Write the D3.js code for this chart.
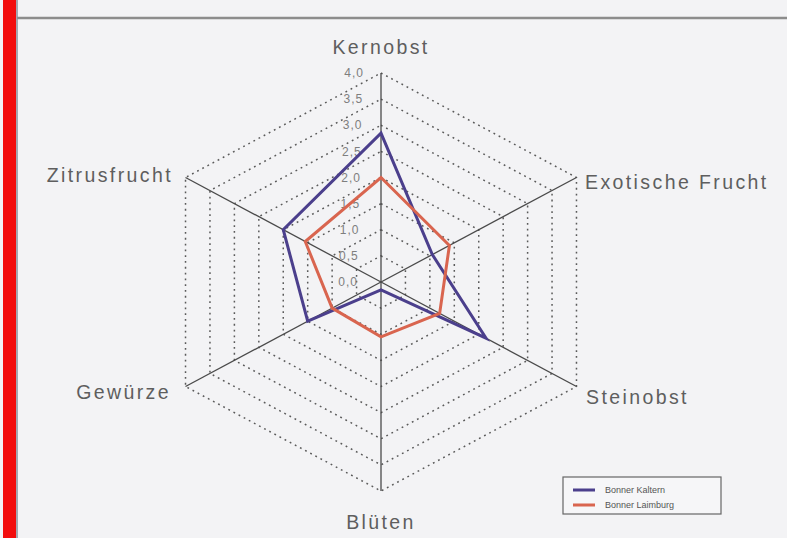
<!DOCTYPE html>
<html>
<head>
<meta charset="utf-8">
<script src="https://cdn.jsdelivr.net/npm/d3@7"></script>
<style>
  body { margin: 0; background: #f3f3f5; }
  svg { display: block; }
</style>
</head>
<body>
<script>
// categories going clockwise from the top
let categories = ['Kernobst', 'Exotische Frucht', 'Steinobst', 'Blüten', 'Gewürze', 'Zitrusfrucht'];
let kaltern = [2.85, 1.05, 2.15, 0.15, 1.5, 2.0];
let laimburg = [2.0, 1.4, 1.2, 1.05, 1.0, 1.55];
let ticks = [0, 0.5, 1, 1.5, 2, 2.5, 3, 3.5, 4];
let tickLabels = ['0,0', '0,5', '1,0', '1,5', '2,0', '2,5', '3,0', '3,5', '4,0'];
let seriesNames = ['Bonner Kaltern', 'Bonner Laimburg'];
let seriesColors = ['#4b3f8c', '#d9654f'];

let totalWidth = 787;
let totalHeight = 538;
let cx = 381, cy = 282;
let stretch = 1.08; // scan is a bit wider than tall

let r = d3.scaleLinear().domain([0, 4]).range([0, 209]);
let angle = d3.scaleLinear().domain([0, categories.length]).range([0, 2 * Math.PI]);

function pt(i, v) {
    let a = angle(i);
    return [cx + Math.sin(a) * r(v) * stretch, cy - Math.cos(a) * r(v)];
}

let svg = d3.select('body').append('svg')
    .attr('width', totalWidth)
    .attr('height', totalHeight);

// frame bits from the scan
svg.append('rect').attr('x', 3).attr('y', 0).attr('width', 13).attr('height', totalHeight).attr('fill', '#f20d0d');
svg.append('line').attr('x1', 17).attr('x2', 17).attr('y1', 0).attr('y2', totalHeight).attr('stroke', '#8a8f9a').attr('stroke-width', 1.5);
svg.append('line').attr('x1', 17).attr('x2', totalWidth).attr('y1', 18).attr('y2', 18).attr('stroke', '#8c8c8c').attr('stroke-width', 2.5);

// dotted rings
let ring = d3.line().x(d => d[0]).y(d => d[1]).curve(d3.curveLinearClosed);
svg.append('g').selectAll('path')
    .data(ticks.slice(1))
    .enter()
    .append('path')
    .attr('d', t => ring(categories.map((c, i) => pt(i, t))))
    .attr('fill', 'none')
    .attr('stroke', '#5a5a5a')
    .attr('stroke-width', 1.5)
    .attr('stroke-dasharray', '1.8,4');

// spokes
svg.append('g').selectAll('line')
    .data(categories)
    .enter()
    .append('line')
    .attr('x1', cx).attr('y1', cy)
    .attr('x2', (c, i) => pt(i, 4)[0])
    .attr('y2', (c, i) => pt(i, 4)[1])
    .attr('stroke', '#4a4a4a')
    .attr('stroke-width', 1.3);

// value labels on the top spoke
svg.append('g').selectAll('text')
    .data(ticks)
    .enter()
    .append('text')
    .attr('x', (t, i) => cx - 17 - (4 - t) * 1.5)
    .attr('y', t => cy - r(t))
    .attr('dy', '0.35em')
    .attr('text-anchor', 'end')
    .style('font-family', 'Liberation Sans, Arial, sans-serif')
    .style('font-size', '12px')
    .style('letter-spacing', '1px')
    .attr('fill', '#7e7e7e')
    .text((t, i) => tickLabels[i]);

// series polygons
[kaltern, laimburg].forEach(function(values, s) {
    svg.append('path')
        .attr('d', ring(values.map((v, i) => pt(i, v))))
        .attr('fill', 'none')
        .attr('stroke', seriesColors[s])
        .attr('stroke-width', 3)
        .attr('stroke-linejoin', 'miter');
});

// category labels
let labelPos = [
    {x: cx, y: 47, anchor: 'middle'},
    {x: 585, y: 182, anchor: 'start'},
    {x: 586, y: 397, anchor: 'start'},
    {x: cx, y: 522, anchor: 'middle'},
    {x: 171, y: 392, anchor: 'end'},
    {x: 173, y: 175, anchor: 'end'}
];
svg.append('g').selectAll('text')
    .data(categories)
    .enter()
    .append('text')
    .attr('x', (c, i) => labelPos[i].x)
    .attr('y', (c, i) => labelPos[i].y)
    .attr('dy', '0.35em')
    .attr('text-anchor', (c, i) => labelPos[i].anchor)
    .style('font-family', 'Liberation Sans, Arial, sans-serif')
    .style('font-size', '19.5px')
    .style('letter-spacing', '2.4px')
    .attr('fill', '#5e5e5e')
    .text(c => c);

// legend
let legend = svg.append('g').attr('transform', 'translate(563, 477)');
legend.append('rect')
    .attr('width', 158).attr('height', 37)
    .attr('fill', '#f6f6f8')
    .attr('stroke', '#666').attr('stroke-width', 1.2);
seriesNames.forEach(function(name, s) {
    let y = 13 + s * 15;
    legend.append('line')
        .attr('x1', 10).attr('x2', 32).attr('y1', y).attr('y2', y)
        .attr('stroke', seriesColors[s]).attr('stroke-width', 3);
    legend.append('text')
        .attr('x', 42).attr('y', y).attr('dy', '0.35em')
        .style('font-family', 'Liberation Sans, Arial, sans-serif')
        .style('font-size', '9px')
        .attr('fill', '#555')
        .text(name);
});
</script>
</body>
</html>
